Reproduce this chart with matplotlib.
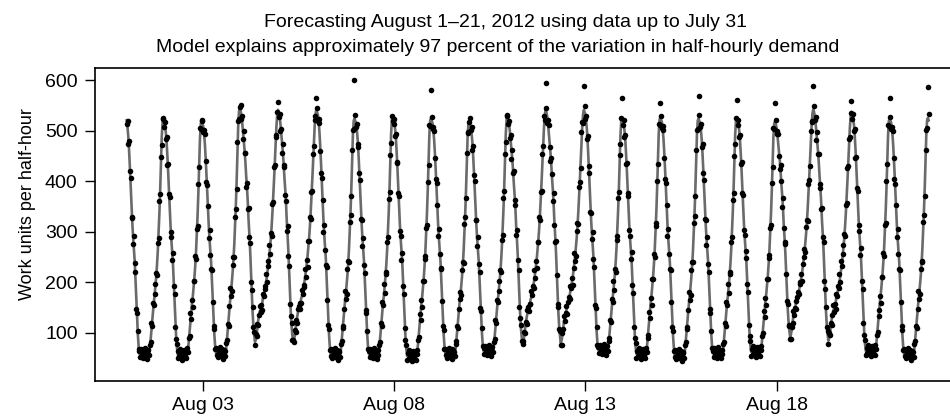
import numpy as np
import matplotlib
matplotlib.use("Agg")
import matplotlib.pyplot as plt
import matplotlib.dates as mdates
from datetime import datetime

plt.rcParams['font.family'] = ['Liberation Sans', 'DejaVu Sans']

# one entry per day, Aug 1 (Wed) .. Aug 21 (Tue)
day_type = ['wd', 'wd', 'wd', 'we', 'we', 'wd', 'wd', 'wd', 'wd', 'wd', 'we',
            'we', 'wd', 'wd', 'wd', 'wd', 'wd', 'we', 'we', 'wd', 'wd']
# model peak reached late in each day, and the low level overnight/daytime trough
peaks = [521, 518, 544, 541, 541, 524, 527, 524, 518, 527, 541,
         541, 524, 526, 524, 524, 518, 542, 537, 524, 525]
troughs = [58, 57, 60, 82, 80, 58, 58, 54, 59, 64, 77,
           80, 66, 58, 56, 59, 62, 92, 84, 64, 58]
peak_before_start = 530
# highest observed point at the peak of each day
peak_points = [524, 520, 546, 557, 564, 601, 520, 580, 518, 531, 595,
               588, 564, 554, 568, 560, 554, 589, 559, 565, 587]

# half-hourly shape of a day (0 = trough, 1 = peak)
wd_fall = [.98, .95, .91, .85, .78, .70, .62, .55, .49, .44, .39, .31, .23, .15,
           .08, .03, 0] + [0] * 31
wd_rise = [0] * 29 + [.02, .06, .10, .14, .18, .22, .25, .29, .33, .38, .44, .52,
                      .60, .70, .82, .93, .99, 1.0, .99]
we_fall = [.97, .94, .90, .86, .82, .77, .71, .66, .60, .52, .46, .39, .30, .20,
           .13, .07, .03, 0] + [0] * 30
we_rise = [0] * 17 + [0, .01, .03, .06, .09, .11, .13, .14, .15, .16, .19, .20,
                      .22, .24, .26, .28, .31, .34, .37, .41, .45, .50, .56, .63,
                      .70, .78, .86, .93, .98, 1.0, .99]

# observed minus model, three sample days
resid = [
    [-8, 12, -15, 20, -6, 18, -22, 9, -14, 25, -5, 16, -20, 11, 8, -4,
     5, -7, 10, -3, 8, -9, 2, 12, -6, 4, -10, 7, -2, 9, -5,
     14, -10, 18, -6, 22, -15, 8, -20, 16, -12, 25, -8, 10, -18, 6, 0, -9],
    [6, -14, 9, -20, 15, -8, 24, -12, 5, -18, 20, -9, 13, -16, -6, 7,
     -8, 6, -4, 11, -6, 3, -11, 7, 9, -3, 5, -8, 12, -5, 4,
     -9, 17, -13, 7, -21, 12, -6, 19, -14, 9, -22, 15, -7, 20, -11, 0, 8],
    [-12, 7, 17, -9, -18, 11, 6, -24, 19, -7, -13, 22, -4, -15, 10, -6,
     9, -4, -9, 6, 0, 11, -7, -2, 8, -12, 6, 3, -6, 10, -3,
     8, -15, 5, 21, -8, -17, 14, 6, -23, 18, -5, -14, 21, 9, -16, 0, 12],
]

shapes = {'wd': (np.array(wd_fall), np.array(wd_rise)),
          'we': (np.array(we_fall), np.array(we_rise))}

start = mdates.date2num(datetime(2012, 8, 1))
times, fitted, observed = [], [], []
for d in range(len(peaks)):
    fall, rise = shapes[day_type[d]]
    prev = peaks[d - 1] if d > 0 else peak_before_start
    low = troughs[d]
    fit = low + (prev - low) * fall + (peaks[d] - low) * rise
    obs = fit + np.array(resid[d % 3])
    obs[46] = peak_points[d]
    times.extend(start + d + np.arange(48) / 48)
    fitted.extend(fit)
    observed.extend(obs)

fig = plt.figure(figsize=(9.5, 4.16), dpi=100)
ax = fig.add_axes([0.1, 0.085, 0.911, 0.7516])
ax.plot(times, fitted, color='#6a6a6a', lw=1.9, zorder=2)
ax.plot(times, observed, 'o', color='black', ms=4, mec='none', zorder=3)

ax.set_xlim(start - 0.83, start + 21.81)
ax.set_ylim(5, 624)
ax.set_yticks([100, 200, 300, 400, 500, 600])
ax.set_xticks([mdates.date2num(datetime(2012, 8, k)) for k in (3, 8, 13, 18)])
ax.xaxis.set_major_formatter(mdates.DateFormatter('%b %d'))
ax.tick_params(labelsize=14, length=7, width=1)
ax.tick_params(axis='y', pad=5.5)
ax.tick_params(axis='x', pad=5)
for s in ax.spines.values():
    s.set_linewidth(1.2)
ax.set_ylabel('Work units per half-hour', fontsize=13)
ax.yaxis.set_label_coords(-0.068, 0.566)

fig.text(0.532, 0.936, 'Forecasting August 1\u201321, 2012 using data up to July 31',
         ha='center', va='baseline', fontsize=14)
fig.text(0.524, 0.876, 'Model explains approximately 97 percent of the variation '
         'in half-hourly demand', ha='center', va='baseline', fontsize=14)

fig.savefig('out.png', dpi=100)
